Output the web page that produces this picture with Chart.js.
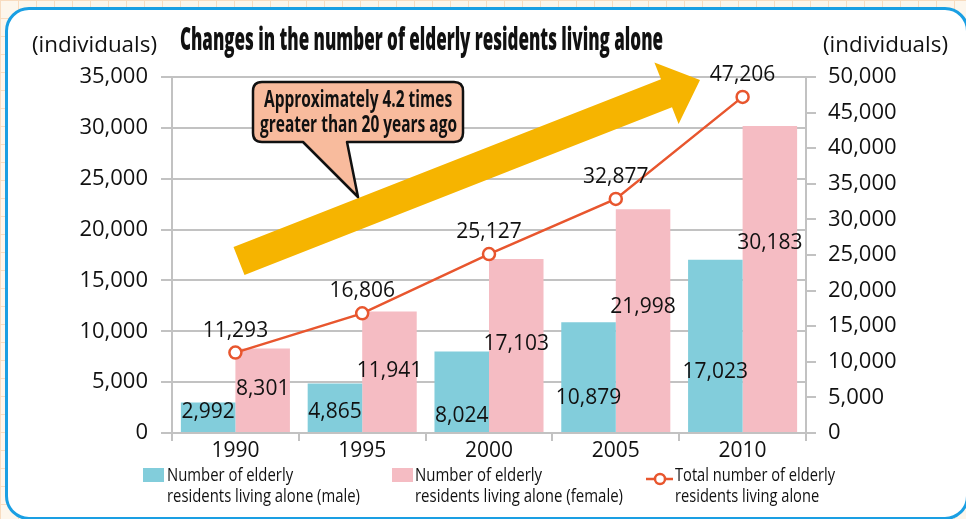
<!DOCTYPE html>
<html><head><meta charset="utf-8">
<script src="https://cdn.jsdelivr.net/npm/chart.js@4.4.1/dist/chart.umd.min.js"></script>
<style>
html,body{margin:0;padding:0;background:#fff;}
#wrap{position:relative;width:966px;height:519px;overflow:hidden;
 background-color:#fdf6ec;
 background-image:linear-gradient(#f8dcc0 1px,transparent 1px),linear-gradient(90deg,#f8dcc0 1px,transparent 1px);
 background-size:18px 18px;}
#frame{position:absolute;left:5px;top:7px;width:958px;height:507px;border:3px solid #1a9fe3;border-radius:24px;background:#fff;}
#cv{position:absolute;left:0;top:0;}
svg{position:absolute;left:0;top:0;}
.t{position:absolute;white-space:nowrap;font-family:"Open Sans",sans-serif;color:#111;transform-origin:0 0;display:inline-block;}
</style>
</head><body>
<div id="wrap">
 <div id="frame"></div>
 <canvas id="cv" width="966" height="519"></canvas>
 <svg width="966" height="519" viewBox="0 0 966 519">
  <polygon points="233.5,247 661,79.2 654.4,62.5 700,80 678.6,123.9 672,107.2 244.5,275" fill="#f6b400"/>
  <path d="M262,82 H454 Q463,82 463,91 V133 Q463,142 454,142 H347 L358,197 L303,142 H262 Q253,142 253,133 V91 Q253,82 262,82 Z" fill="#f8bb9d" stroke="#111" stroke-width="2.5" stroke-linejoin="round"/>
  <rect x="143" y="468" width="21" height="14" fill="#82cddb"/>
  <rect x="392" y="468" width="21" height="14" fill="#f5bcc3"/>
  <line x1="646" y1="479" x2="673" y2="479" stroke="#e8562e" stroke-width="2.5"/>
  <circle cx="660" cy="479" r="5" fill="#fff" stroke="#e8562e" stroke-width="2.5"/>
 </svg>
</div>
<script>
const categories = ['1990','1995','2000','2005','2010'];
const maleValues = [2992, 4865, 8024, 10879, 17023];
const femaleValues = [8301, 11941, 17103, 21998, 30183];
const totalValues = [11293, 16806, 25127, 32877, 47206];
const leftAxisMax = 35000;
const rightAxisMax = 50000;
const tickStep = 5000;

const fmt = v => Number(v).toLocaleString('en-US');

const labelPlugin = {
  id: 'valueLabels',
  afterDatasetsDraw(chart, args, opts) {
    const ctx = chart.ctx;
    ctx.save();
    ctx.font = '21px "Open Sans"';
    ctx.fillStyle = '#111';
    ctx.textAlign = 'center';
    ctx.textBaseline = 'middle';
    [0, 1].forEach(di => {
      const meta = chart.getDatasetMeta(di);
      meta.data.forEach((bar, i) => {
        const v = chart.data.datasets[di].data[i];
        const y = bar.base - (bar.base - bar.y) * opts.fractions[di][i];
        ctx.fillText(fmt(v), bar.x, y);
      });
    });
    const lm = chart.getDatasetMeta(2);
    lm.data.forEach((pt, i) => {
      ctx.fillText(fmt(chart.data.datasets[2].data[i]), pt.x, pt.y - opts.lineOffset);
    });
    ctx.restore();
  }
};

const gridCol = '#c2c2c2';
const tickFont = {family: '"Open Sans"', size: 22, lineHeight: 1};

new Chart(document.getElementById('cv'), {
  type: 'bar',
  data: {
    labels: categories,
    datasets: [
      {label: 'Number of elderly residents living alone (male)', data: maleValues, backgroundColor: '#82cddb', yAxisID: 'y', order: 2, categoryPercentage: 0.86, barPercentage: 1.0},
      {label: 'Number of elderly residents living alone (female)', data: femaleValues, backgroundColor: '#f5bcc3', yAxisID: 'y', order: 2, categoryPercentage: 0.86, barPercentage: 1.0},
      {type: 'line', label: 'Total number of elderly residents living alone', data: totalValues, yAxisID: 'y2', order: 0,
       borderColor: '#e8562e', borderWidth: 2.5, pointRadius: 6, pointBackgroundColor: '#fff', pointBorderColor: '#e8562e', pointBorderWidth: 2.5, tension: 0}
    ]
  },
  options: {
    responsive: false, animation: false, devicePixelRatio: 1,
    layout: {padding: {left: 0, right: 0, top: 77, bottom: 0}},
    plugins: {legend: {display: false}, title: {display: false}, tooltip: {enabled: false},
      valueLabels: {fractions: [[0.69, 0.42, 0.2, 0.31, 0.35], [0.51, 0.51, 0.506, 0.563, 0.619]], lineOffset: 22}},
    scales: {
      x: {
        grid: {offset: true, drawOnChartArea: false, drawTicks: true, tickLength: 8, color: gridCol, lineWidth: 2},
        border: {display: true, color: gridCol, width: 2},
        ticks: {font: {family: '"Open Sans"', size: 21, lineHeight: 1}, color: '#111', padding: 0},
        afterFit: s => { s.height = 86; }
      },
      y: {
        position: 'left', min: 0, max: leftAxisMax,
        ticks: {stepSize: tickStep, font: tickFont, color: '#111', padding: 13, callback: v => fmt(v)},
        grid: {color: gridCol, lineWidth: 2, tickLength: 11},
        border: {display: true, color: gridCol, width: 2},
        afterFit: s => { s.width = 172; }
      },
      y2: {
        position: 'right', min: 0, max: rightAxisMax,
        ticks: {stepSize: tickStep, font: tickFont, color: '#111', padding: 12, callback: v => fmt(v)},
        grid: {drawOnChartArea: false, color: gridCol, lineWidth: 2, tickLength: 10},
        border: {display: true, color: gridCol, width: 2},
        afterFit: s => { s.width = 160; }
      }
    }
  },
  plugins: [labelPlugin]
});

// Text overlays (real text)
const wrap = document.getElementById('wrap');
function addBlock(lines, left, baseline, size, weight, lineGap, targetW, align) {
  const els = lines.map((txt) => {
    const d = document.createElement('div');
    d.className = 't';
    d.textContent = txt;
    d.style.fontSize = size + 'px';
    d.style.lineHeight = size + 'px';
    d.style.fontWeight = weight;
    wrap.appendChild(d);
    return d;
  });
  const widths = els.map(e => e.getBoundingClientRect().width);
  const maxW = Math.max(...widths);
  const sx = targetW ? targetW / maxW : 1;
  els.forEach((e, k) => {
    let x = left;
    if (align === 'center') x = left + (targetW - widths[k] * sx) / 2;
    e.style.left = x + 'px';
    e.style.top = (baseline + k * lineGap - 0.888 * size) + 'px';
    e.style.transform = 'scaleX(' + sx + ')';
  });
}
addBlock(['Changes in the number of elderly residents living alone'], 180, 50, 32, 800, 0, 483);
addBlock(['(individuals)'], 32, 53, 21, 400, 0, 125);
addBlock(['(individuals)'], 823, 53, 21, 400, 0, 125);
addBlock(['Approximately 4.2 times', 'greater than 20 years ago'], 260, 107, 23, 700, 25, 197, 'center');
addBlock(['Number of elderly', 'residents living alone (male)'], 167, 482, 19, 400, 21, 193);
addBlock(['Number of elderly', 'residents living alone (female)'], 415, 482, 19, 400, 21, 208);
addBlock(['Total number of elderly', 'residents living alone'], 675, 482, 19, 400, 21, 160);
</script>
</body></html>
